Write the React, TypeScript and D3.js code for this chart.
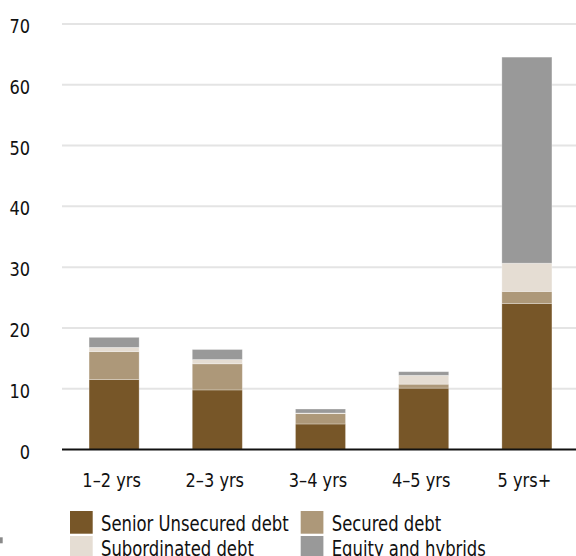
import React from "react";
import * as d3 from "d3";

const categories = ["1–2 yrs", "2–3 yrs", "3–4 yrs", "4–5 yrs", "5 yrs+"];
const seriesNames = ["Senior Unsecured debt", "Secured debt", "Subordinated debt", "Equity and hybrids"];
const seniorUnsecured = [11.5, 9.8, 4.2, 10.1, 24.0];
const secured = [4.6, 4.3, 1.7, 0.65, 2.0];
const subordinated = [0.7, 0.7, 0.1, 1.45, 4.65];
const equityHybrids = [1.65, 1.65, 0.66, 0.6, 33.9];
const yTicks = [0, 10, 20, 30, 40, 50, 60, 70];

const colors = ["#775628", "#ad9879", "#e5ddd3", "#999999"];
const FONT = "'DejaVu Sans Condensed', 'DejaVu Sans', sans-serif";

export default function App() {
  const W = 576, H = 556;
  const x = d3.scaleBand<string>().domain(categories).range([62.5, 578.5]).paddingInner(0.515).paddingOuter(0.2575);
  const y = d3.scaleLinear().domain([0, 70]).range([449.5, 24]);

  const rows = categories.map((c, i) => ({
    cat: c,
    s0: seniorUnsecured[i],
    s1: secured[i],
    s2: subordinated[i],
    s3: equityHybrids[i],
  }));
  const stack = d3.stack<any>().keys(["s0", "s1", "s2", "s3"])(rows);

  const legendItems = [
    { name: seriesNames[0], color: colors[0], sx: 70, tx: 101, row: 0 },
    { name: seriesNames[1], color: colors[1], sx: 300.7, tx: 331.7, row: 0 },
    { name: seriesNames[2], color: colors[2], sx: 70, tx: 101, row: 1 },
    { name: seriesNames[3], color: colors[3], sx: 300.7, tx: 331.7, row: 1 },
  ];

  return (
    <svg width={W} height={H} style={{ position: "absolute", left: 0, top: 0, background: "#fff" }} fontFamily={FONT}>
      {yTicks.map((t) => (
        <g key={t}>
          {t !== 0 && (
            <line x1={62} x2={576} y1={y(t)} y2={y(t)} stroke="#e4e4e4" strokeWidth={2} />
          )}
          <text
            transform={`translate(30,${y(t) + 2}) scale(0.9,1)`}
            dy="0.35em"
            textAnchor="end"
            fontSize={20}
            fill="#111"
          >
            {t}
          </text>
        </g>
      ))}
      {stack.map((layer, li) => (
        <g key={li} fill={colors[li]}>
          {layer.map((d, i) => (
            <rect
              key={i}
              x={x(categories[i])!}
              width={x.bandwidth()}
              y={y(d[1])}
              height={Math.max(0, y(d[0]) - y(d[1]))}
              stroke="#ffffff"
              strokeOpacity={0.35}
              strokeWidth={0.8}
            />
          ))}
        </g>
      ))}
      <line x1={62} x2={576} y1={y(0)} y2={y(0)} stroke="#111" strokeWidth={2} />
      {categories.map((c) => (
        <text
          key={c}
          transform={`translate(${x(c)! + x.bandwidth() / 2 - 2.5},487.3) scale(0.9,1)`}
          textAnchor="middle"
          fontSize={20}
          fill="#111"
        >
          {c}
        </text>
      ))}
      {legendItems.map((it) => (
        <g key={it.name}>
          <rect x={it.sx} y={511 + it.row * 25} width={22.7} height={22.7} fill={it.color} />
          <text
            transform={`translate(${it.tx},${530.7 + it.row * 25}) scale(0.85,1)`}
            fontSize={21.5}
            fill="#111"
          >
            {it.name}
          </text>
        </g>
      ))}
      <rect x={0} y={537.3} width={2.7} height={6} fill="#8a8a8a" />
    </svg>
  );
}
